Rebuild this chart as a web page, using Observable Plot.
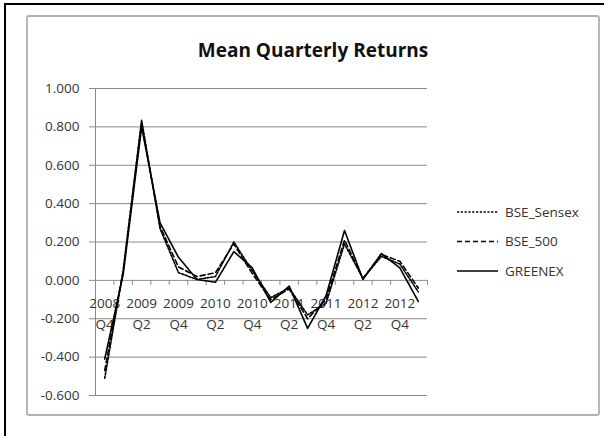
<!DOCTYPE html>
<html><head><meta charset="utf-8">
<script src="https://cdn.jsdelivr.net/npm/d3@7"></script>
<script src="https://cdn.jsdelivr.net/npm/@observablehq/plot@0.6"></script>
<style>
html,body{margin:0;padding:0;background:#fff;overflow:hidden}
#chart{width:604px;height:436px}
</style></head><body><div id="chart"></div>
<script>
// ---- data ----
const quarters = ["2008 Q4","2009 Q1","2009 Q2","2009 Q3","2009 Q4","2010 Q1","2010 Q2","2010 Q3","2010 Q4",
                  "2011 Q1","2011 Q2","2011 Q3","2011 Q4","2012 Q1","2012 Q2","2012 Q3","2012 Q4","2013 Q1"];
const seriesNames = ["BSE_Sensex","BSE_500","GREENEX"];
const bseSensex = [-0.51, 0.05, 0.835, 0.27, 0.04, 0.005, 0.02, 0.20, 0.05, -0.09, -0.04, -0.18, -0.12, 0.19, 0.01, 0.125, 0.085, -0.06];
const bse500    = [-0.47, 0.05, 0.82, 0.28, 0.07, 0.02, 0.04, 0.19, 0.035, -0.10, -0.045, -0.20, -0.10, 0.21, 0.01, 0.135, 0.10, -0.04];
const greenex   = [-0.41, 0.03, 0.80, 0.30, 0.12, 0.005, -0.01, 0.15, 0.065, -0.115, -0.03, -0.25, -0.08, 0.26, 0.005, 0.14, 0.065, -0.11];
const yTicks = [-0.6, -0.4, -0.2, 0, 0.2, 0.4, 0.6, 0.8, 1.0];
const titleText = "Mean Quarterly Returns";

// ---- build tables ----
const seriesValues = [bseSensex, bse500, greenex];
const dashes = ["2.2,1.6", "5,3", null];
const rows = seriesNames.flatMap((s, k) => seriesValues[k].map((v, i) => ({series: s, i, quarter: quarters[i], value: v})));
const xLabels = quarters.map((q, i) => ({i, year: q.split(" ")[0], qtr: q.split(" ")[1]})).filter(d => d.i % 2 === 0);
const boundaries = d3.range(quarters.length + 1).map(i => i - 0.5);

const FONT = "'Open Sans', 'DejaVu Sans', sans-serif";
const TXT = "#333";
const GRID = "#8a8a8a";

const lineMarks = seriesNames.map((s, k) => Plot.line(rows.filter(d => d.series === s), {
  x: "i", y: "value", stroke: "#000", strokeWidth: 1.6,
  ...(dashes[k] ? {strokeDasharray: dashes[k]} : {})
}));

const svg = Plot.plot({
  width: 604, height: 436,
  marginLeft: 95, marginRight: 177, marginTop: 88, marginBottom: 41,
  style: {fontFamily: FONT, background: "transparent"},
  x: {type: "linear", domain: [-0.5, quarters.length - 0.5], axis: null},
  y: {type: "linear", domain: [-0.6, 1.0], axis: null},
  marks: [
    Plot.ruleY(yTicks, {y: d => d, stroke: GRID, strokeWidth: 1, insetLeft: -6}),
    Plot.ruleX([-0.5], {x: d => d, stroke: GRID, strokeWidth: 1}),
    Plot.ruleX(boundaries, {x: d => d, y1: () => 0, y2: () => 0, insetBottom: -5, stroke: GRID, strokeWidth: 1}),
    Plot.text(yTicks, {y: d => d, frameAnchor: "left", dx: -16, textAnchor: "end", text: d => d.toFixed(3),
      fill: TXT, fontSize: 13.5, fontFamily: FONT}),
    Plot.text(xLabels, {x: "i", y: () => 0, dy: 23, text: "year", fill: TXT, fontSize: 13.5, fontFamily: FONT}),
    Plot.text(xLabels, {x: "i", y: () => 0, dy: 44, text: "qtr", fill: TXT, fontSize: 13.5, fontFamily: FONT}),
    ...lineMarks
  ]
});

const root = d3.select(svg);
// chart-area border and outer frame
root.insert("rect", ":first-child")
  .attr("x", 27).attr("y", 16).attr("width", 572).attr("height", 399).attr("rx", 2)
  .attr("fill", "none").attr("stroke", "#b0b0b0").attr("stroke-width", 1.8);
root.append("path").attr("d", "M5,436V4H604").attr("fill", "none").attr("stroke", "#000").attr("stroke-width", 2);
// title
root.append("text").attr("x", 313).attr("y", 57).attr("text-anchor", "middle")
  .attr("font-family", FONT).attr("font-weight", "bold").attr("font-size", 19).attr("fill", "#111")
  .text(titleText);
// legend
const leg = root.append("g").attr("text-anchor", "start");
seriesNames.forEach((s, k) => {
  const cy = 212 + k * 29.5;
  const ln = leg.append("line").attr("x1", 457).attr("x2", 498).attr("y1", cy).attr("y2", cy)
    .attr("stroke", "#000").attr("stroke-width", 1.3);
  if (dashes[k]) ln.attr("stroke-dasharray", dashes[k]);
  leg.append("text").attr("x", 505).attr("y", cy).attr("dy", "0.36em").attr("text-anchor", "start")
    .attr("font-family", FONT).attr("font-size", 13.5).attr("fill", TXT).text(s);
});

document.getElementById("chart").appendChild(svg);
</script>
</body></html>
